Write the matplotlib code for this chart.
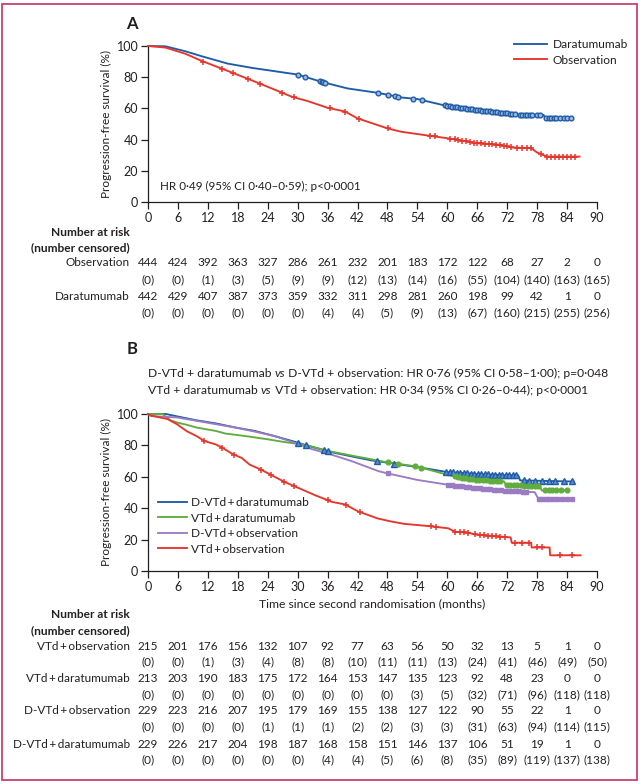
import matplotlib
matplotlib.use('Agg')
import matplotlib.pyplot as plt
import matplotlib.transforms as mtransforms
from matplotlib.patches import Rectangle
import numpy as np

plt.rcParams['font.family'] = ['Lato', 'DejaVu Sans']
plt.rcParams['font.size'] = 8.5
plt.rcParams['text.color'] = '#231f20'

# ---- data: panel A ----
a_dara_t = [0, 3.5, 7.5, 10.8, 16, 20.8, 24, 30, 34.8, 40, 46, 50.8, 54, 60, 66, 74, 79.3, 79.6, 84.8]
a_dara_s = [100, 99.8, 96.6, 93.4, 88.7, 86, 84.5, 81.7, 77, 72.8, 70, 67, 66, 61.5, 59, 56, 55.8, 54, 53.6]
a_obs_t = [0, 3.5, 7.5, 10.8, 14.8, 20, 24.8, 28.8, 32, 36, 39.5, 42, 48, 50.8, 56.8, 60, 66, 70.8, 72.8, 76.8, 78, 80, 86.5]
a_obs_s = [100, 99, 95, 90.4, 85.5, 79, 72.8, 67.5, 64.7, 60.4, 58, 53.6, 47.2, 45, 42.3, 40.9, 37.7, 36.6, 35, 34.5, 31.7, 29.1, 29.1]

a_dara_cens = [30.1, 31.5, 34.5, 34.8, 35.1, 35.5, 46.1, 48.1, 49.5, 50.1, 53.1, 54.9,
               59.5, 60.0, 60.5, 61.0, 61.5, 62.0, 62.5, 63.0, 63.5, 64.0, 64.5, 65.0,
               65.5, 66.0, 66.5, 67.0, 67.5, 68.0, 68.5, 69.0, 69.5, 70.0, 70.5, 71.0,
               71.5, 72.0, 72.5, 73.0, 73.5, 74.5, 75.0, 75.5, 76.0, 76.5, 77.0, 78.0,
               78.5, 79.8, 80.3, 80.8, 81.3, 81.8, 82.5, 83.3, 84.0, 84.8]
a_obs_cens = [11.1, 14.9, 17.1, 20.1, 22.5, 26.8, 29.3, 36.5, 39.5, 42.3, 48.1, 56.5,
              57.5, 60.5, 61.5, 62.2, 63.0, 63.8, 64.5, 65.3, 66.0, 66.8, 67.5, 68.3,
              69.0, 69.8, 70.5, 71.3, 72.0, 72.8, 74.0, 75.0, 76.0, 76.8, 78.8, 80.0,
              80.8, 81.6, 82.4, 83.2, 84.0, 84.8, 85.5]

obs_n = [444, 424, 392, 363, 327, 286, 261, 232, 201, 183, 172, 122, 68, 27, 2, 0]
obs_c = [0, 0, 1, 3, 5, 9, 9, 12, 13, 14, 16, 55, 104, 140, 163, 165]
dara_n = [442, 429, 407, 387, 373, 359, 332, 311, 298, 281, 260, 198, 99, 42, 1, 0]
dara_c = [0, 0, 0, 0, 0, 0, 4, 4, 5, 9, 13, 67, 160, 215, 255, 256]

# ---- data: panel B ----
b_dd_t = [0, 3.6, 5.8, 9.7, 13.6, 17.5, 21.4, 25.3, 29.2, 33, 36.9, 40.8, 44.7, 48, 54, 60, 66, 72, 74.2, 74.6, 85.3]
b_dd_s = [100, 100, 98.5, 96, 94, 91.4, 89.2, 86, 82.5, 78.9, 75.6, 73, 70.5, 69, 66.2, 63, 61.8, 60.9, 60.9, 57.7, 57]
b_vd_t = [0, 2.9, 4.5, 5.8, 7.8, 9.7, 13.6, 15.6, 19.4, 24, 27.2, 31.8, 36, 42, 48, 54, 60, 63, 66, 71.4, 71.7, 78.6, 78.9, 84]
b_vd_s = [100, 100, 96, 94.6, 93.1, 91.4, 89.2, 87.5, 86, 83.9, 82.2, 80.2, 76.5, 72.8, 69.2, 66.5, 61.3, 59.2, 58.1, 57, 55, 53.8, 51.3, 51.3]
b_do_t = [0, 0.6, 5.8, 9.7, 13.6, 17.5, 21.4, 25.3, 29.2, 33, 36.9, 40.8, 46.3, 48, 54, 60, 66, 72, 77.5, 78.3, 85]
b_do_s = [100, 98.7, 97.8, 95.7, 93.5, 91.4, 88.8, 86, 81.9, 77.5, 74, 70, 63.5, 62.2, 58, 55, 52.8, 51, 50.2, 45.7, 45.7]
b_vo_t = [0, 0.6, 3.9, 5.8, 7.8, 9.7, 11.3, 13.6, 14.9, 16.9, 18.8, 20.4, 22.7, 24.6, 27.2, 29.2, 31.1, 33.4,
          36.9, 39.5, 42.1, 46, 48.8, 51.4, 56, 60.2, 61.5, 64.2, 65.5, 68.9, 72.7, 72.9, 76.8, 76.9, 80.5, 80.6, 86.7]
b_vo_s = [100, 99, 96.8, 93.5, 89, 86, 82.8, 80.6, 78.5, 74.6, 72, 67.7, 64.5, 61.3, 57, 54.2, 51.6, 48.4,
          44, 42.4, 38, 33.5, 31.5, 30, 28.7, 27.2, 25, 24.4, 23.3, 22.3, 21.4, 18, 18, 15, 15, 10, 10]

b_dd_cens = [30.0, 31.7, 35.3, 36.0, 46.0, 49.4, 59.8, 60.5, 61.2, 61.9, 62.6, 63.3, 64.0, 64.7,
             65.4, 66.1, 66.8, 67.5, 68.2, 68.9, 69.6, 70.3, 71.0, 71.7, 72.4, 73.1, 73.8,
             75.3, 76.3, 77.6, 79.0, 80.3, 81.6, 83.3, 85.0]
b_vd_cens = [48.1, 50.1, 53.5, 54.8, 61.5, 62.2, 62.9, 63.6, 64.3, 65.0, 65.7, 66.4, 67.1, 67.8,
             68.5, 69.2, 69.9, 70.6, 71.9, 72.6, 73.3, 74.0, 74.7, 75.4, 76.1, 76.8, 77.5,
             78.2, 79.6, 80.3, 81.0, 81.8, 82.7, 84.0]
b_do_cens = [48.1, 60.2, 60.9, 61.6, 62.3, 63.0, 63.7, 64.4, 65.1, 65.8, 66.5, 67.2, 67.9, 68.6,
             69.3, 70.0, 70.7, 71.6, 72.3, 73.0, 73.7, 74.4, 75.1, 75.8, 78.3, 79.0, 79.7,
             80.4, 81.1, 82.0, 83.0, 84.0, 85.0]
b_vo_cens = [11.3, 14.9, 17.2, 22.7, 24.6, 27.2, 29.2, 36.0, 39.7, 42.4, 56.8, 57.8, 61.5, 62.5,
             63.3, 64.2, 65.5, 66.5, 67.3, 68.2, 68.9, 69.8, 70.6, 71.5, 73.6, 74.9, 76.3,
             78.0, 79.0, 82.6, 85.0]

vo_n = [215, 201, 176, 156, 132, 107, 92, 77, 63, 56, 50, 32, 13, 5, 1, 0]
vo_c = [0, 0, 1, 3, 4, 8, 8, 10, 11, 11, 13, 24, 41, 46, 49, 50]
vd_n = [213, 203, 190, 183, 175, 172, 164, 153, 147, 135, 123, 92, 48, 23, 0, 0]
vd_c = [0, 0, 0, 0, 0, 0, 0, 0, 0, 3, 5, 32, 71, 96, 118, 118]
do_n = [229, 223, 216, 207, 195, 179, 169, 155, 138, 127, 122, 90, 55, 22, 1, 0]
do_c = [0, 0, 0, 0, 1, 1, 1, 2, 2, 3, 3, 31, 63, 94, 114, 115]
dd_n = [229, 226, 217, 204, 198, 187, 168, 158, 151, 146, 137, 106, 51, 19, 1, 0]
dd_c = [0, 0, 0, 0, 0, 0, 4, 4, 5, 6, 8, 35, 89, 119, 137, 138]

months = list(range(0, 91, 6))

TS = '\u2009'  # thin space around "+"
L_DD = 'D-VTd' + TS + '+' + TS + 'daratumumab'
L_VD = 'VTd' + TS + '+' + TS + 'daratumumab'
L_DO = 'D-VTd' + TS + '+' + TS + 'observation'
L_VO = 'VTd' + TS + '+' + TS + 'observation'

BLUE = '#1f5ca8'
RED = '#e8352b'
GREEN = '#5fad3f'
PURPLE = '#9b7bc4'
INK = '#231f20'

W, H = 640, 784
fig = plt.figure(figsize=(6.4, 7.84), dpi=100)


def fy(y):
    return 1 - y / H


def setup(ax):
    ax.set_xlim(0, 90)
    ax.set_ylim(0, 100)
    ax.set_xticks(months)
    ax.set_yticks(range(0, 101, 20))
    for s in ['top', 'right']:
        ax.spines[s].set_visible(False)
    for s in ['left', 'bottom']:
        ax.spines[s].set_color(INK)
        ax.spines[s].set_linewidth(0.9)
    ax.tick_params(direction='out', length=5, width=0.9, colors=INK,
                   labelsize=9, pad=2)
    ax.set_facecolor('none')


def curve(ax, t, s, cens, color, marker, label, ms=3.5, fill='white'):
    ax.plot(t, s, color=color, lw=1.35, label=label, clip_on=False, zorder=3)
    cy = np.interp(cens, t, s)
    if marker == '+':
        ax.plot(cens, cy, ls='none', marker='+', ms=5, mew=1.1, color=color,
                clip_on=False, zorder=4)
    else:
        ax.plot(cens, cy, ls='none', marker=marker, ms=ms, mew=1.0, mec=color,
                mfc=fill, clip_on=False, zorder=4)


def risk_rows(ax, rows, ys, label_x=130):
    trans = mtransforms.blended_transform_factory(ax.transData, fig.transFigure)
    for i, (name, n, c) in enumerate(rows):
        yn = ys[2 * i]
        yc = ys[2 * i + 1]
        fig.text(label_x / W, fy(yn), name, ha='right', va='center', fontsize=8.5)
        for m, a, b in zip(months, n, c):
            ax.text(m, fy(yn), str(a), transform=trans, ha='center', va='center', fontsize=8.5)
            ax.text(m, fy(yc), '(%d)' % b, transform=trans, ha='center', va='center', fontsize=8.5)


# ---- panel A ----
axA = fig.add_axes([148 / W, fy(202), 449 / W, 156 / H])
setup(axA)
curve(axA, a_dara_t, a_dara_s, a_dara_cens, BLUE, 'o', 'Daratumumab', ms=3.4, fill='#9fb8dc')
curve(axA, a_obs_t, a_obs_s, a_obs_cens, RED, '+', 'Observation')
axA.legend(loc='upper left', bbox_to_anchor=(514 / W, fy(39)), bbox_transform=fig.transFigure,
           frameon=False, handlelength=2.8, handletextpad=0.45, labelspacing=0.38,
           borderpad=0, borderaxespad=0, fontsize=8.6)
fig.text(160 / W, fy(186), 'HR 0·49 (95% CI 0·40–0·59); p<0·0001', ha='left', va='center', fontsize=8.4)
fig.text(132 / W, fy(24), 'A', ha='center', va='center', fontsize=12, fontweight='bold')
fig.text(106 / W, fy(124), 'Progression-free survival (%)', rotation=90, ha='center', va='center', fontsize=8.5)

fig.text(130 / W, fy(232), 'Number at risk', ha='right', va='center', fontsize=8.6, fontweight='bold')
fig.text(130 / W, fy(248), '(number censored)', ha='right', va='center', fontsize=8.6, fontweight='bold')
risk_rows(axA, [('Observation', obs_n, obs_c), ('Daratumumab', dara_n, dara_c)],
          [263, 280, 297, 313])

# ---- panel B ----
axB = fig.add_axes([148 / W, fy(571), 449 / W, 157 / H])
setup(axB)
curve(axB, b_dd_t, b_dd_s, b_dd_cens, BLUE, '^', L_DD, ms=3.8, fill='#5f8ccb')
curve(axB, b_vd_t, b_vd_s, b_vd_cens, GREEN, 'o', L_VD, ms=3.4, fill=GREEN)
curve(axB, b_do_t, b_do_s, b_do_cens, PURPLE, 's', L_DO, ms=3.2, fill=PURPLE)
curve(axB, b_vo_t, b_vo_s, b_vo_cens, RED, '+', L_VO)
axB.legend(loc='upper left', bbox_to_anchor=(158 / W, fy(497)), bbox_transform=fig.transFigure,
           frameon=False, handlelength=2.4, handletextpad=0.4, labelspacing=0.38,
           borderpad=0, borderaxespad=0, fontsize=8.6)
fig.text(132 / W, fy(349), 'B', ha='center', va='center', fontsize=12, fontweight='bold')
fig.text(106 / W, fy(492), 'Progression-free survival (%)', rotation=90, ha='center', va='center', fontsize=8.5)
fig.text(372 / W, fy(604), 'Time since second randomisation (months)', ha='center', va='center', fontsize=8.7)

# header lines with italic "vs"
for yy, left, right in [(377, 'D-VTd + daratumumab ', ' D-VTd + observation: HR 0·76 (95% CI 0·58–1·00); p=0·048'),
                        (394, 'VTd + daratumumab ', ' VTd + observation: HR 0·34 (95% CI 0·26–0·44); p<0·0001')]:
    t1 = fig.text(148 / W, fy(yy), left, ha='left', va='baseline', fontsize=8.7)
    t2 = axB.annotate('vs', xy=(1, 0), xycoords=t1, ha='left', va='bottom', fontsize=8.7,
                      style='italic', annotation_clip=False)
    axB.annotate(right, xy=(1, 0), xycoords=t2, ha='left', va='bottom', fontsize=8.7,
                 annotation_clip=False)

fig.text(130 / W, fy(615), 'Number at risk', ha='right', va='center', fontsize=8.6, fontweight='bold')
fig.text(130 / W, fy(631), '(number censored)', ha='right', va='center', fontsize=8.6, fontweight='bold')
risk_rows(axB, [(L_VO, vo_n, vo_c), (L_VD, vd_n, vd_c),
                (L_DO, do_n, do_c), (L_DD, dd_n, dd_c)],
          [646, 662, 679, 695, 711, 727, 744, 760])

fig.patches.append(Rectangle((2 / W, 4 / H), 635 / W, 776 / H, transform=fig.transFigure,
                             fill=False, ec='#c8416a', lw=1.3))

fig.savefig('out.png', dpi=100, facecolor='white')
